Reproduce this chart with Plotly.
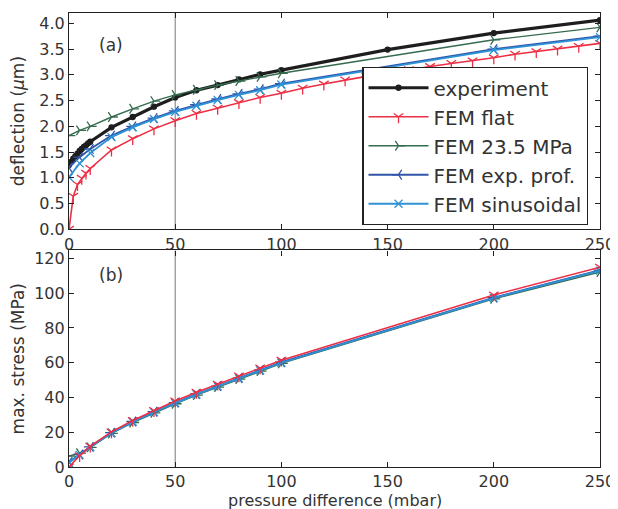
import plotly.graph_objects as go

# ---------- data: panel (a) deflection (um) ----------
p_exp = [0, 1, 2, 3, 4, 5, 6, 7, 8, 9, 10, 20, 30, 40, 50, 60, 70, 80, 90, 100, 150, 200, 250]
d_exp = [1.25, 1.31, 1.37, 1.42, 1.47, 1.52, 1.56, 1.60, 1.63, 1.67, 1.70, 1.98, 2.18, 2.38, 2.56,
         2.70, 2.80, 2.91, 3.01, 3.09, 3.49, 3.81, 4.06]

p_flat = [0, 2, 4, 6, 8, 10, 20, 30, 40, 50, 60, 70, 80, 90, 100, 110, 120, 130, 140, 150,
          160, 170, 180, 190, 200, 210, 220, 230, 240, 250]
d_flat = [0.0, 0.64, 0.87, 0.99, 1.09, 1.18, 1.54, 1.76, 1.95, 2.11, 2.25, 2.35, 2.46, 2.56, 2.64,
          2.74, 2.82, 2.90, 2.97, 3.03, 3.10, 3.16, 3.22, 3.27, 3.33, 3.40, 3.45, 3.50, 3.55, 3.61]

p_fem = [0, 5, 10, 20, 30, 40, 50, 60, 70, 80, 90, 100, 200, 250]
d_235 = [1.82, 1.92, 2.00, 2.18, 2.34, 2.49, 2.61, 2.71, 2.80, 2.88, 2.96, 3.03, 3.68, 3.92]
d_expprof = [1.20, 1.40, 1.56, 1.82, 2.00, 2.16, 2.30, 2.42, 2.53, 2.63, 2.72, 2.83, 3.50, 3.75]
d_sinus = [1.01, 1.28, 1.48, 1.79, 1.98, 2.14, 2.28, 2.40, 2.51, 2.61, 2.70, 2.81, 3.48, 3.73]

# ---------- data: panel (b) max. stress (MPa) ----------
s_flat = [0.0, 6.5, 12.0, 20.2, 26.8, 32.5, 38.0, 43.0, 47.7, 52.4, 57.0, 61.5, 99.0, 115.0]
s_235 = [6.3, 8.0, 11.3, 19.3, 25.6, 31.2, 36.4, 41.4, 46.0, 50.6, 55.2, 59.6, 96.8, 112.2]
s_expprof = [3.0, 7.2, 11.6, 19.8, 26.2, 31.8, 37.0, 42.0, 46.6, 51.2, 55.8, 60.3, 97.5, 113.3]
s_sinus = [2.5, 7.0, 11.5, 19.6, 26.0, 31.6, 36.8, 41.8, 46.4, 51.0, 55.6, 60.0, 97.2, 113.0]

x_ticks = [0, 50, 100, 150, 200, 250]
ya_ticks = [0, 0.5, 1, 1.5, 2, 2.5, 3, 3.5, 4]
ya_labels = ["0.0", "0.5", "1.0", "1.5", "2.0", "2.5", "3.0", "3.5", "4.0"]
yb_ticks = [0, 20, 40, 60, 80, 100, 120]

C_BLACK = "#1e1e1e"
C_RED = "#ec2f45"
C_GREEN = "#356b4e"
C_BLUE = "#2f55a8"
C_LBLUE = "#2f92d6"

FONT = "DejaVu Sans"
TXT = "#333"

fig = go.Figure()

def add(x, y, name, color, symbol, size, lw, xa, ya, show):
    fig.add_trace(go.Scatter(
        x=x, y=y, name=name, mode="lines+markers", xaxis=xa, yaxis=ya,
        showlegend=show,
        line=dict(color=color, width=lw),
        marker=dict(symbol=symbol, size=size, color=color,
                    line=dict(color=color, width=1.3)),
    ))

# panel (a)
add(p_exp, d_exp, "experiment", C_BLACK, "circle", 5, 3.2, "x", "y", True)
add(p_flat, d_flat, "FEM flat", C_RED, "y-down", 8, 1.6, "x", "y", True)
add(p_fem, d_235, "FEM 23.5 MPa", C_GREEN, "y-right", 8, 1.4, "x", "y", True)
add(p_fem, d_expprof, "FEM exp. prof.", C_BLUE, "y-left", 8, 1.8, "x", "y", True)
add(p_fem, d_sinus, "FEM sinusoidal", C_LBLUE, "x-thin", 8, 1.8, "x", "y", True)

# panel (b)
add(p_fem, s_235, "FEM 23.5 MPa", C_GREEN, "y-right", 8, 1.4, "x2", "y2", False)
add(p_fem, s_expprof, "FEM exp. prof.", C_BLUE, "y-left", 8, 1.8, "x2", "y2", False)
add(p_fem, s_sinus, "FEM sinusoidal", C_LBLUE, "x-thin", 8, 1.8, "x2", "y2", False)
add(p_fem, s_flat, "FEM flat", C_RED, "y-down", 8, 1.6, "x2", "y2", False)

axis_common = dict(
    showline=True, linecolor="#222", linewidth=1.2, mirror="allticks",
    ticks="inside", ticklen=5, tickcolor="#222", tickwidth=1,
    showgrid=False, zeroline=False, automargin=False,
    tickfont=dict(family=FONT, size=16, color=TXT),
)

# the page body adds an 8 px offset; size the figure so the plot lands where the reference has it
fig.update_layout(
    width=610, height=501,
    margin=dict(l=61, r=18, t=5, b=42),
    paper_bgcolor="white", plot_bgcolor="white",
    font=dict(family=FONT, color=TXT),
    xaxis=dict(domain=[0, 1], anchor="y", range=[0, 250], tickvals=x_ticks, **axis_common),
    yaxis=dict(domain=[0.5236, 1], anchor="x", range=[0, 4.2], tickvals=ya_ticks,
               ticktext=ya_labels,
               title=dict(text="deflection (<i>μ</i>m)", font=dict(family=FONT, size=17, color=TXT),
                          standoff=10),
               **axis_common),
    xaxis2=dict(domain=[0, 1], anchor="y2", range=[0, 250], tickvals=x_ticks, **axis_common),
    yaxis2=dict(domain=[0, 0.4769], anchor="x2", range=[0, 124.6], tickvals=yb_ticks,
                title=dict(text="max. stress (MPa)", font=dict(family=FONT, size=17, color=TXT),
                           standoff=7),
                **axis_common),
    legend=dict(x=0.978, xanchor="right", y=0.881, yanchor="top",
                bgcolor="white", bordercolor="#222", borderwidth=1.2,
                font=dict(family=FONT, size=20, color=TXT),
                itemwidth=60),
    shapes=[
        dict(type="line", xref="x", yref="y domain", x0=50, x1=50, y0=0, y1=1,
             line=dict(color="#777", width=1), layer="below"),
        dict(type="line", xref="x2", yref="y2 domain", x0=50, x1=50, y0=0, y1=1,
             line=dict(color="#777", width=1), layer="below"),
    ],
    annotations=[
        dict(text="(a)", xref="paper", yref="paper", x=0.052, y=0.957, showarrow=False,
             font=dict(family=FONT, size=17, color=TXT)),
        dict(text="(b)", xref="paper", yref="paper", x=0.052, y=0.423, showarrow=False,
             font=dict(family=FONT, size=17, color=TXT)),
        dict(text="pressure difference (mbar)", xref="paper", yref="paper",
             x=0.5, y=-0.074, yanchor="middle", showarrow=False,
             font=dict(family=FONT, size=16, color=TXT)),
    ],
)

fig.write_html("out.html")
